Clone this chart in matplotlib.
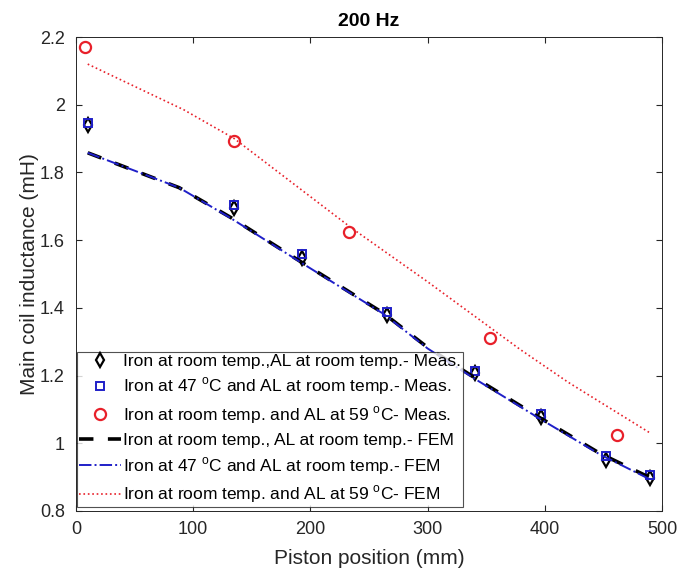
import numpy as np
import matplotlib.pyplot as plt

plt.rcParams['font.family'] = ['Liberation Sans', 'DejaVu Sans']
plt.rcParams['mathtext.fontset'] = 'custom'
plt.rcParams['mathtext.rm'] = 'Liberation Sans'

# measured points
measX = [10, 135, 193, 265, 340, 397, 452, 490]
measRoom = [1.94, 1.695, 1.548, 1.38, 1.208, 1.078, 0.952, 0.898]
meas47 = [1.947, 1.705, 1.558, 1.388, 1.213, 1.086, 0.962, 0.905]
measAlX = [8, 135, 233, 353, 462]
measAl59 = [2.17, 1.893, 1.625, 1.31, 1.025]

# FEM curves
femX = [10, 88, 132, 191, 262, 300, 339, 396, 447, 490]
femRoom = [1.858, 1.755, 1.667, 1.538, 1.385, 1.283, 1.196, 1.075, 0.97, 0.898]
fem47 = [1.858, 1.755, 1.665, 1.536, 1.383, 1.28, 1.193, 1.072, 0.967, 0.893]
femAlX = [10, 92, 135, 235, 300, 379, 420, 490]
femAl59 = [2.12, 1.985, 1.9, 1.636, 1.477, 1.277, 1.18, 1.03]

blue = '#1f1fc8'
red = '#e8202a'
grey = '#262626'
deg = r'$^{\mathrm{o}}$'

fig = plt.figure(figsize=(6.93, 5.74), dpi=100)
ax = fig.add_axes([0.1097, 0.1098, 0.8456, 0.8257])

ax.plot(measX, measRoom, 'd', color='k', mfc='none', mew=1.6, ms=7,
        label='Iron at room temp.,AL at room temp.- Meas.')
ax.plot(measX, meas47, 's', color=blue, mfc='none', mew=1.4, ms=6,
        label='Iron at 47 ' + deg + 'C and AL at room temp.- Meas.')
ax.plot(measAlX, measAl59, 'o', color=red, mfc='none', mew=1.6, ms=8,
        label='Iron at room temp. and AL at 59 ' + deg + 'C- Meas.')
ax.plot(femX, femRoom, color='k', lw=2.6, ls=(0, (4, 4)),
        label='Iron at room temp., AL at room temp.- FEM')
ax.plot(femX, fem47, color=blue, lw=1.4, ls='-.',
        label='Iron at 47 ' + deg + 'C and AL at room temp.- FEM')
ax.plot(femAlX, femAl59, color=red, lw=1.2, ls=':',
        label='Iron at room temp. and AL at 59 ' + deg + 'C- FEM')

ax.set_xlim(0, 500)
ax.set_ylim(0.8, 2.2)
ax.set_xticks([0, 100, 200, 300, 400, 500])
ax.set_yticks([0.8, 1, 1.2, 1.4, 1.6, 1.8, 2, 2.2])
ax.set_yticklabels(['0.8', '1', '1.2', '1.4', '1.6', '1.8', '2', '2.2'])
ax.tick_params(direction='in', top=True, right=True, labelsize=13,
               colors=grey, length=4)
ax.tick_params(axis='x', pad=7)
ax.tick_params(axis='y', pad=8)
for s in ax.spines.values():
    s.set_color(grey)
    s.set_linewidth(0.7)

ax.set_xlabel('Piston position (mm)', fontsize=15, color=grey, labelpad=8)
ax.set_ylabel('Main coil inductance (mH)', fontsize=15, color=grey, labelpad=1)
ax.set_title('200 Hz', fontsize=14, fontweight='bold', pad=8)

leg = ax.legend(loc='lower left', bbox_to_anchor=(0.002, 0.008), fontsize=12.5,
                frameon=True, fancybox=False, edgecolor=grey,
                borderaxespad=0, handlelength=2.4, handletextpad=0.15,
                labelspacing=0.4, borderpad=0.1)
leg.get_frame().set_linewidth(0.8)

fig.savefig('out.png', dpi=100)
